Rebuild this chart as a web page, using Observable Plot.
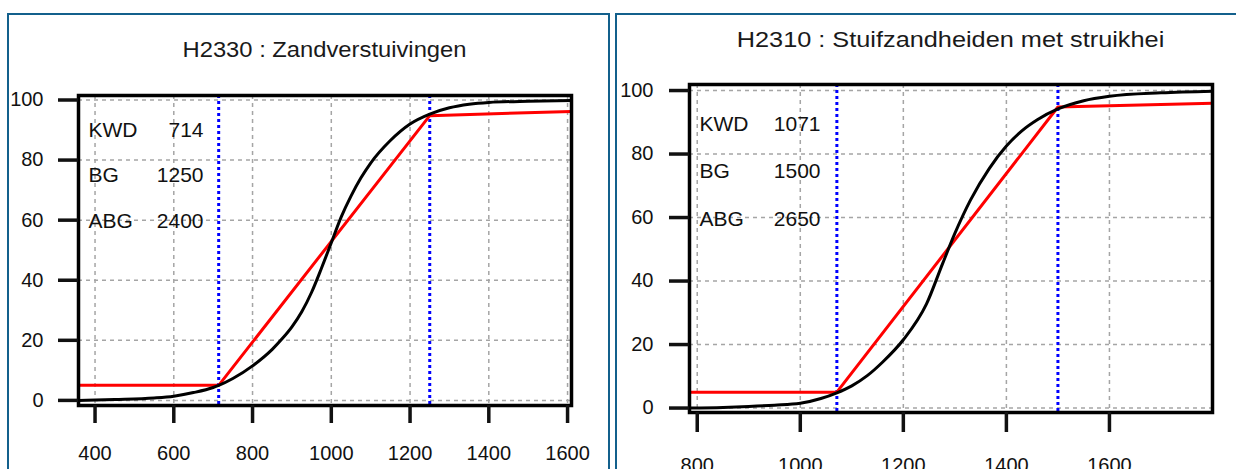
<!DOCTYPE html>
<html>
<head>
<meta charset="utf-8">
<script src="https://cdn.jsdelivr.net/npm/d3@7"></script>
<script src="https://cdn.jsdelivr.net/npm/@observablehq/plot@0.6"></script>
<style>
  html, body { margin: 0; padding: 0; background: #fff; }
  body { width: 1236px; height: 469px; overflow: hidden; position: relative; font-family: "Liberation Sans", Arial, sans-serif; }
  .panel { position: absolute; top: 13px; height: 480px; border: 2px solid #13608c; box-sizing: border-box; }
  .title { position: absolute; text-align: center; font-size: 22px; color: #1a1a1a; white-space: nowrap; line-height: 1; }
  .chart { position: absolute; top: 0; }
  .chart svg { overflow: visible; }
</style>
</head>
<body>
<div class="panel" style="left:7px;width:603px;"></div>
<div class="panel" style="left:615px;width:700px;"></div>
<div class="title" id="t1" style="left:78px;width:493px;top:39px;transform:scaleX(1.08);"></div>
<div class="title" id="t2" style="left:689px;width:523px;top:29px;transform:scaleX(1.15);"></div>
<div class="chart" id="c1" style="left:0px;"></div>
<div class="chart" id="c2" style="left:612px;"></div>
<script>
// ---- data ----
const titles = ["H2330 : Zandverstuivingen", "H2310 : Stuifzandheiden met struikhei"];
const labelNames = ["KWD", "BG", "ABG"];
const leftLabelValues = [714, 1250, 2400];
const rightLabelValues = [1071, 1500, 2650];

const leftXTicks = [400, 600, 800, 1000, 1200, 1400, 1600];
const rightXTicks = [800, 1000, 1200, 1400, 1600];
const yTicks = [0, 20, 40, 60, 80, 100];

const leftXDomain = [358, 1610];
const rightXDomain = [785, 1800];
const leftYDomain = [-1.7, 101.5];
const rightYDomain = [-1.4, 101.9];

const leftMarkers = [714, 1250];
const rightMarkers = [1071, 1500];

const leftBlackX = [358, 450, 550, 600, 650, 700, 714, 750, 800, 850, 875, 900, 925, 950, 975, 1000, 1025, 1050, 1075, 1100, 1150, 1200, 1250, 1300, 1350, 1400, 1500, 1610];
const leftBlackY = [0, 0.3, 0.8, 1.4, 2.6, 4.3, 5, 7.3, 11.5, 17, 20.5, 24.5, 29.5, 36, 44, 52.5, 61, 68, 74, 79, 86.5, 92, 95.3, 97.4, 98.6, 99.2, 99.6, 99.8];
const leftRedX = [358, 714, 1250, 1610];
const leftRedY = [5, 5, 94.8, 96.2];

const rightBlackX = [785, 850, 900, 950, 1000, 1040, 1071, 1100, 1130, 1160, 1200, 1245, 1276, 1300, 1330, 1367, 1400, 1430, 1460, 1500, 1550, 1600, 1700, 1800];
const rightBlackY = [0, 0.2, 0.5, 0.9, 1.5, 3, 4.8, 7, 10.2, 14.5, 21.5, 32.8, 45.4, 55, 65.4, 75.5, 82.5, 87.3, 90.8, 94.2, 96.8, 98.2, 99.3, 99.8];
const rightRedX = [785, 1071, 1500, 1800];
const rightRedY = [5, 5, 94.8, 96];

const zip = (xs, ys) => xs.map((x, i) => ({x, y: ys[i]}));

function chart(o) {
  const gridStyle = {stroke: "#a5a5a5", strokeOpacity: 1, strokeWidth: 1.5, strokeDasharray: "4,4"};
  const fmt = d3.format("d");
  return Plot.plot({
    width: o.width, height: 469,
    marginLeft: o.mL, marginRight: o.mR, marginTop: o.mT, marginBottom: o.mB,
    x: {domain: o.xDomain, axis: null},
    y: {domain: o.yDomain, axis: null},
    style: {fontFamily: "'Liberation Sans', Arial, sans-serif", fontSize: "20px", color: "#111", background: "transparent"},
    marks: [
      Plot.gridX(o.xTicks, gridStyle),
      Plot.gridY(yTicks, gridStyle),
      Plot.ruleX(o.markers, {stroke: "#0000ff", strokeWidth: 3, strokeDasharray: "3,3"}),
      Plot.line(o.red, {x: "x", y: "y", stroke: "#ff0000", strokeWidth: 3}),
      Plot.line(o.black, {x: "x", y: "y", stroke: "#000", strokeWidth: 3, curve: "monotone-x"}),
      Plot.frame({stroke: "#000", strokeWidth: 3.5}),
      Plot.axisX(o.xTicks, {label: null, tickFormat: fmt, tickSize: o.xTickSize, tickPadding: o.xTickPad, strokeWidth: 3.5, fontSize: 20}),
      Plot.axisY(yTicks, {label: null, tickFormat: fmt, tickSize: 20, tickPadding: o.yTickPad, strokeWidth: 3.5, fontSize: 20}),
      Plot.text([labelNames.join("\n")], {text: d => d, frameAnchor: "top-left", textAnchor: "start", lineAnchor: "top", dx: 10, dy: o.labelDy, lineHeight: o.lineHeight, fontSize: 21}),
      Plot.text([o.labelValues.join("\n")], {text: d => d, frameAnchor: "top-left", textAnchor: "end", lineAnchor: "top", dx: o.valueDx, dy: o.labelDy, lineHeight: o.lineHeight, fontSize: 21})
    ]
  });
}

document.getElementById("t1").textContent = titles[0];
document.getElementById("t2").textContent = titles[1];

document.getElementById("c1").append(chart({
  width: 612, mL: 78, mR: 41, mT: 95, mB: 64,
  xDomain: leftXDomain, yDomain: leftYDomain, xTicks: leftXTicks,
  markers: leftMarkers, red: zip(leftRedX, leftRedY), black: zip(leftBlackX, leftBlackY),
  xTickSize: 18, xTickPad: 22, yTickPad: 15,
  labelValues: leftLabelValues, labelDy: 9, lineHeight: 2.17, valueDx: 125
}));

document.getElementById("c2").append(chart({
  width: 624, mL: 77, mR: 24, mT: 84, mB: 57,
  xDomain: rightXDomain, yDomain: rightYDomain, xTicks: rightXTicks,
  markers: rightMarkers, red: zip(rightRedX, rightRedY), black: zip(rightBlackX, rightBlackY),
  xTickSize: 20, xTickPad: 25, yTickPad: 16,
  labelValues: rightLabelValues, labelDy: 13, lineHeight: 2.25, valueDx: 131
}));
</script>
</body>
</html>
